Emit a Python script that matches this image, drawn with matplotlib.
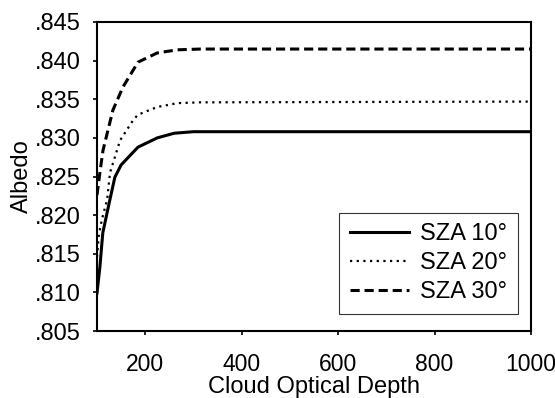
import matplotlib.pyplot as plt

plt.rcParams['font.family'] = ['Liberation Sans', 'DejaVu Sans']

# Albedo vs cloud optical depth for three solar zenith angles
depth_10 = [100, 106, 112, 125, 137, 150, 185, 225, 260, 300, 480, 1000]
albedo_10 = [.8099, .8133, .8177, .8215, .8249, .8265, .8288, .8300, .8306, .8308, .8308, .8308]

depth_20 = [100, 104, 110, 121, 127, 148, 175, 185, 225, 267, 315, 1000]
albedo_20 = [.8146, .8175, .8194, .8220, .8255, .8297, .8323, .8330, .8340, .8345, .8346, .8347]

depth_30 = [100, 106, 112.5, 133, 154, 185, 225, 267, 315, 1000]
albedo_30 = [.8226, .8255, .8284, .8336, .8366, .8398, .8410, .8414, .8415, .8415]

labels = ['SZA 10°', 'SZA 20°', 'SZA 30°']

fig = plt.figure(figsize=(5.55, 3.98), dpi=100)
ax = fig.add_axes([97 / 555, 1 - 331 / 398, 434 / 555, 309 / 398])

ax.plot(depth_10, albedo_10, color='black', lw=2.2, ls='-', label=labels[0])
ax.plot(depth_20, albedo_20, color='black', lw=1.6, ls=(0, (1, 2.0)), label=labels[1])
ax.plot(depth_30, albedo_30, color='black', lw=2.2, ls=(0, (3, 1.6)), label=labels[2])

ax.set_xlim(100, 1000)
ax.set_ylim(.805, .845)
ax.set_xticks([200, 400, 600, 800, 1000])
ax.set_yticks([.805, .810, .815, .820, .825, .830, .835, .840, .845])
ax.set_yticklabels(['.805', '.810', '.815', '.820', '.825', '.830', '.835', '.840', '.845'])
ax.tick_params(direction='out', labelsize=17, length=3, width=1.2)
ax.tick_params(axis='x', pad=13, labelsize=16.5)
ax.tick_params(axis='y', pad=9)

for s in ax.spines.values():
    s.set_linewidth(1.5)

ax.set_xlabel('Cloud Optical Depth', fontsize=17, labelpad=0)
ax.set_ylabel('Albedo', fontsize=17, labelpad=1)

leg = ax.legend(loc='lower right', bbox_to_anchor=(518 / 555, 1 - 314 / 398),
                bbox_transform=fig.transFigure, fontsize=17, frameon=True,
                fancybox=False, handlelength=2.5, handletextpad=0.5,
                borderpad=0.45, labelspacing=0.3, borderaxespad=0)
leg.get_frame().set_edgecolor('black')
leg.get_frame().set_linewidth(0.8)

fig.savefig('out.png', dpi=100)
